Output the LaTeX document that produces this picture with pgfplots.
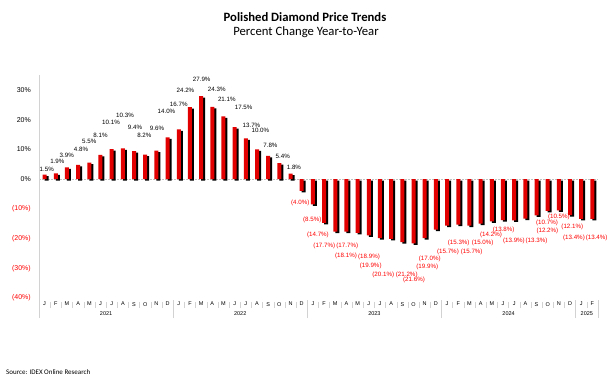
\documentclass[border=0pt]{standalone}
\usepackage{pgfplots}
\pgfplotsset{compat=1.18}
\usepackage{pgfplotstable}
\usepackage{fontspec}
\setmainfont{Liberation Sans}
\newfontfamily\calibri{Carlito}
\definecolor{barred}{RGB}{226,0,0}
\definecolor{labred}{RGB}{255,0,0}
\definecolor{sepgray}{RGB}{210,210,210}

\pgfplotstableread{
idx val
0 1.5
1 1.9
2 3.9
3 4.8
4 5.5
5 8.1
6 10.1
7 10.3
8 9.4
9 8.2
10 9.6
11 14.0
12 16.7
13 24.2
14 27.9
15 24.3
16 21.1
17 17.5
18 13.7
19 10.0
20 7.8
21 5.4
22 1.8
23 -4.0
24 -8.5
25 -14.7
26 -17.7
27 -17.7
28 -18.1
29 -18.9
30 -19.9
31 -20.1
32 -21.2
33 -21.6
34 -19.9
35 -17.0
36 -15.7
37 -15.3
38 -15.7
39 -15.0
40 -14.2
41 -13.8
42 -13.9
43 -13.3
44 -12.2
45 -10.7
46 -10.5
47 -12.1
48 -13.4
49 -13.4
}\bars

\pgfplotstableread{
lx ly v
0.19 3.3 1.5
1.14 5.8 1.9
1.98 8.1 3.9
3.26 10.0 4.8
4.0 12.8 5.5
5.0 14.6 8.1
5.94 19.1 10.1
7.19 21.5 10.3
8.09 17.3 9.4
8.92 14.7 8.2
10.05 16.9 9.6
10.9 22.9 14.0
12.0 25.2 16.7
12.6 30.0 24.2
14.05 33.6 27.9
15.4 30.2 24.3
16.3 26.8 21.1
17.8 24.1 17.5
18.5 17.9 13.7
19.3 16.3 10.0
20.2 11.2 7.8
21.3 7.5 5.4
22.3 3.9 1.8
}\poslab

\pgfplotstableread{
lx ly v
22.87 -7.96 4.0
23.94 -13.8 8.5
24.45 -18.84 14.7
25.02 -22.4 17.7
27.07 -22.4 17.7
26.96 -25.9 18.1
29.02 -26.1 18.9
29.17 -29.3 19.9
30.29 -32.3 20.1
32.39 -32.3 21.2
33.04 -34.0 21.6
34.23 -29.5 19.9
34.45 -26.7 17.0
36.08 -24.45 15.7
37.04 -21.6 15.3
38.2 -24.45 15.7
39.18 -21.6 15.0
39.93 -18.84 14.2
41.06 -17.15 13.8
41.98 -20.75 13.9
44.0 -20.75 13.3
44.97 -17.5 12.2
44.94 -14.7 10.7
46.0 -12.7 10.5
47.2 -16.25 12.1
47.35 -19.95 13.4
49.38 -19.95 13.4
}\neglab

\begin{document}
\begin{tikzpicture}
\path[use as bounding box] (0,0) rectangle (609pt,382pt);
\node[font=\calibri\bfseries\fontsize{12.7}{14}\selectfont, inner sep=0pt] at (305pt,365.3pt) {Polished Diamond Price Trends};
\node[font=\calibri\fontsize{12.7}{14}\selectfont, inner sep=0pt] at (306pt,349.7pt) {Percent Change Year-to-Year};
\node[anchor=west, font=\calibri\fontsize{7}{8}\selectfont, inner sep=0pt] at (6pt,9.7pt) {Source: IDEX Online Research};
\begin{axis}[
  at={(39pt,84pt)}, anchor=south west,
  scale only axis, width=559pt, height=223pt,
  xmin=-0.5, xmax=49.5, ymin=-40, ymax=35,
  clip=false,
  axis line style={draw=none},
  major tick length=0pt,
  xtick pos=bottom, ytick pos=left,
  ytick={-40,-30,-20,-10,0,10,20,30},
  yticklabels={\textcolor{labred}{(40\%)},\textcolor{labred}{(30\%)},\textcolor{labred}{(20\%)},\textcolor{labred}{(10\%)},0\%,10\%,20\%,30\%},
  yticklabel style={font=\fontsize{7}{8}\selectfont, inner sep=0pt, xshift=-8pt},
  xtick={0,...,49},
  xticklabels={J,F,M,A,M,J,J,A,S,O,N,D,J,F,M,A,M,J,J,A,S,O,N,D,J,F,M,A,M,J,J,A,S,O,N,D,J,F,M,A,M,J,J,A,S,O,N,D,J,F},
  xticklabel style={font=\fontsize{5.5}{6}\selectfont, inner sep=0pt, yshift=-4pt},
  extra x ticks={5.5,17.5,29.5,41.5,48.5},
  extra x tick labels={2021,2022,2023,2024,2025},
  extra x tick style={xticklabel style={yshift=-9pt}},
  /pgf/number format/assume math mode=true,
]
\draw[sepgray!80!gray, dash pattern=on 1.5pt off 1.5pt] (axis cs:-0.5,0) -- (axis cs:49.5,0);
\draw[sepgray] (axis cs:-0.5,35) -- (axis cs:-0.5,-46.7);
\pgfplotsinvokeforeach{0.5,1.5,...,48.5}{\draw[sepgray] (axis cs:#1,-41.3) -- (axis cs:#1,-43.5);}
\pgfplotsinvokeforeach{11.5,23.5,35.5,47.5,49.5}{\draw[sepgray] (axis cs:#1,-40.7) -- (axis cs:#1,-46.7);}
\addplot[ybar, bar width=4pt, bar shift=2pt, fill=black, draw=none, yshift=-1.5pt] table[x=idx,y=val]{\bars};
\addplot[ybar, bar width=4pt, bar shift=0pt, fill=barred, draw=none] table[x=idx,y=val]{\bars};
\addplot[draw=none, mark=none, point meta=explicit,
  nodes near coords={\pgfmathprintnumber[fixed,fixed zerofill,precision=1]{\pgfplotspointmeta}\%},
  nodes near coords align={center},
  every node near coord/.append style={font=\fontsize{6.2}{7}\selectfont, text=black, inner sep=0pt, anchor=center}]
  table[x=lx,y=ly,meta=v]{\poslab};
\addplot[draw=none, mark=none, point meta=explicit,
  nodes near coords={(\pgfmathprintnumber[fixed,fixed zerofill,precision=1]{\pgfplotspointmeta}\%)},
  nodes near coords align={center},
  every node near coord/.append style={font=\fontsize{6.2}{7}\selectfont, text=labred, inner sep=0pt, anchor=center}]
  table[x=lx,y=ly,meta=v]{\neglab};
\end{axis}
\end{tikzpicture}
\end{document}
